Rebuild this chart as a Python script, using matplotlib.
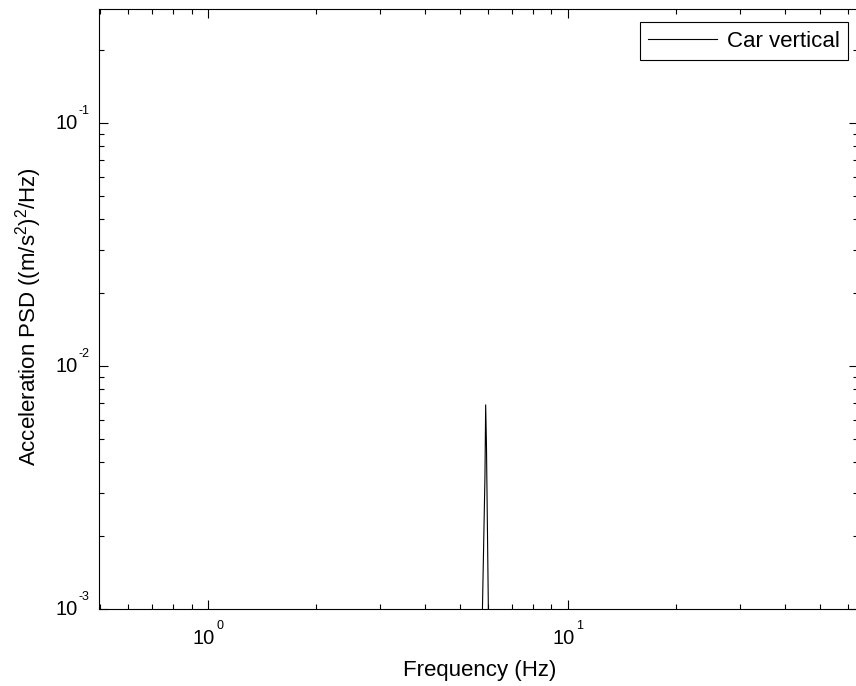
import matplotlib
matplotlib.use("Agg")
import matplotlib.pyplot as plt
from matplotlib.ticker import LogLocator, NullFormatter
import numpy as np

# Data (values below 1e-3 fall outside the visible range)
freq_hz = [0.5, 1.0, 2.0, 4.0, 5.5, 5.70, 5.77, 5.88, 5.907, 5.937, 6.02, 6.10, 8.0, 15.0, 30.0, 64.0]
psd_car_vertical = [2e-5, 3e-5, 5e-5, 1e-4, 1.5e-4, 2e-4, 8e-4, 3.5e-3, 6.9e-3, 4.7e-3, 8e-4, 2e-4, 6e-5, 3e-5, 2e-5, 1e-5]
series_label = "Car vertical"
x_label = "Frequency (Hz)"
y_label = "Acceleration PSD ((m/s$^2$)$^2$/Hz)"
x_major_ticks = [1.0, 10.0]
y_major_ticks = [1e-3, 1e-2, 1e-1]

plt.rcParams['font.family'] = ['Liberation Sans', 'DejaVu Sans']
plt.rcParams['mathtext.fontset'] = 'custom'
plt.rcParams['mathtext.rm'] = 'Liberation Sans'
plt.rcParams['mathtext.it'] = 'Liberation Sans:italic'
plt.rcParams['mathtext.bf'] = 'Liberation Sans:bold'
plt.rcParams['axes.unicode_minus'] = False

DPI = 100
fig = plt.figure(figsize=(8.56, 6.86), dpi=DPI)
ax = fig.add_axes([0.11565, 0.11268, 0.8869, 0.87376])

ax.plot(freq_hz, psd_car_vertical, color='black', linewidth=0.8, label=series_label)
ax.set_xscale('log')
ax.set_yscale('log')
ax.set_xlim(0.498, 64)
ax.set_ylim(1e-3, 0.293)
ax.set_xticks(x_major_ticks)
ax.set_yticks(y_major_ticks)
ax.xaxis.set_minor_locator(LogLocator(base=10, subs=np.arange(2, 10)))
ax.yaxis.set_minor_locator(LogLocator(base=10, subs=np.arange(2, 10)))
ax.xaxis.set_minor_formatter(NullFormatter())
ax.yaxis.set_minor_formatter(NullFormatter())

ax.tick_params(which='both', direction='in', top=True, right=True, width=0.8,
               labelbottom=False, labelleft=False)
ax.tick_params(which='major', length=6.5)
ax.tick_params(which='minor', length=3.6)
for s in ax.spines.values():
    s.set_linewidth(0.8)

BASE_FS = 14.5
SUP_FS = 9
PX = 72.0 / DPI  # points per pixel
base_w = 1.112 * BASE_FS / PX / 72 * DPI * PX  # in points
base_w = 1.112 * BASE_FS  # width of "10" in points


def sup_width(s):
    w = 0.0
    for ch in s:
        w += 0.333 if ch == '-' else 0.556
    return w * SUP_FS


# x tick labels: "10" + superscript, centred on the tick
for v in x_major_ticks:
    e = str(int(round(np.log10(v))))
    sw = sup_width(e)
    gap = 1 * PX
    total = base_w + gap + sw
    left = -total / 2
    ax.annotate('10', xy=(v, 0), xycoords=('data', 'axes fraction'),
                xytext=(left, -35.3 * PX), textcoords='offset points',
                ha='left', va='baseline', fontsize=BASE_FS, annotation_clip=False)
    ax.annotate(e, xy=(v, 0), xycoords=('data', 'axes fraction'),
                xytext=(left + base_w + gap, -20.3 * PX), textcoords='offset points',
                ha='left', va='baseline', fontsize=SUP_FS, annotation_clip=False)

# y tick labels: right-aligned left of the axis
for v in y_major_ticks:
    e = str(int(round(np.log10(v))))
    sw = sup_width(e)
    sup_right = -9.5 * PX
    ax.annotate(e, xy=(0, v), xycoords=('axes fraction', 'data'),
                xytext=(sup_right, 8.7 * PX), textcoords='offset points',
                ha='right', va='baseline', fontsize=SUP_FS, annotation_clip=False)
    ax.annotate('10', xy=(0, v), xycoords=('axes fraction', 'data'),
                xytext=(sup_right - sw - 1 * PX, -6.5 * PX), textcoords='offset points',
                ha='right', va='baseline', fontsize=BASE_FS, annotation_clip=False)

ax.set_xlabel(x_label, fontsize=16)
ax.set_ylabel(y_label, fontsize=16)
ax.xaxis.set_label_coords(0.502, -0.0849)
ax.yaxis.set_label_coords(-0.072, 0.4875)

leg = ax.legend(loc='upper right', bbox_to_anchor=(0.9868, 0.9785), fontsize=16,
                frameon=True, fancybox=False, edgecolor='black', framealpha=1,
                handlelength=3.1, handletextpad=0.45, borderpad=0.38, borderaxespad=0)
leg.get_frame().set_linewidth(0.8)

fig.savefig("out.png", dpi=DPI)
